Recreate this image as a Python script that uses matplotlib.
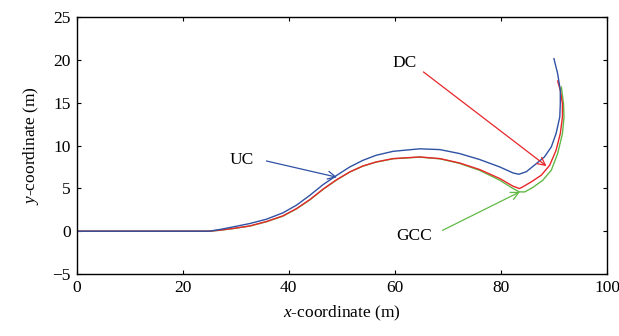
import matplotlib
matplotlib.use("Agg")
import matplotlib.pyplot as plt

plt.rcParams['font.family'] = ['Liberation Serif', 'DejaVu Serif']
plt.rcParams['mathtext.fontset'] = 'custom'
plt.rcParams['mathtext.it'] = 'Liberation Serif:italic'
plt.rcParams['mathtext.rm'] = 'Liberation Serif'

# UC (blue)
uc_x = [0, 25, 27.0, 29.5, 32.7, 35.8, 38.9, 41.5, 44.0, 46.5, 49.0, 51.5, 54.0,
        56.5, 59.7, 64.7, 68.5, 72.2, 76.0, 79.8, 82.3, 83.4, 84.8, 86.3, 88.2,
        89.5, 90.4, 91.1, 91.2, 91.2, 90.7, 90.0]
uc_y = [0, 0, 0.2, 0.5, 0.9, 1.4, 2.14, 3.05, 4.2, 5.45, 6.5, 7.5, 8.28,
        8.87, 9.33, 9.62, 9.53, 9.07, 8.37, 7.5, 6.8, 6.65, 6.95, 7.7, 8.67,
        9.84, 11.4, 13.34, 14.9, 16.45, 18.4, 20.15]

# DC (red)
dc_x = [0, 25, 27.0, 29.5, 32.7, 35.8, 38.9, 41.5, 44.0, 46.5, 49.0, 51.5, 54.0,
        56.5, 59.7, 64.7, 68.5, 72.2, 76.0, 79.8, 82.3, 83.5, 84.1, 85.7, 87.6,
        89.2, 90.4, 91.2, 91.6, 91.6, 91.2, 90.7]
dc_y = [0, 0, 0.12, 0.32, 0.62, 1.13, 1.79, 2.65, 3.7, 4.92, 6.0, 6.92, 7.62,
        8.09, 8.48, 8.67, 8.48, 7.97, 7.2, 6.15, 5.25, 4.98, 5.17, 5.75, 6.53,
        7.7, 9.45, 11.4, 13.34, 14.9, 16.45, 17.54]

# GCC (green)
gcc_x = [0, 25, 27.0, 29.5, 32.7, 35.8, 38.9, 41.5, 44.0, 46.5, 49.0, 51.5, 54.0,
         56.5, 59.7, 64.7, 68.5, 72.2, 76.0, 79.8, 82.3, 83.5, 84.5, 86.0, 87.9,
         89.5, 90.7, 91.6, 91.9, 91.8, 91.4]
gcc_y = [0, 0, 0.1, 0.3, 0.6, 1.1, 1.75, 2.62, 3.66, 4.9, 5.97, 6.9, 7.6,
         8.07, 8.46, 8.65, 8.45, 7.92, 7.1, 5.95, 4.98, 4.59, 4.59, 5.1, 5.95,
         7.12, 9.07, 11.4, 13.34, 14.9, 16.84]

x_ticks = [0, 20, 40, 60, 80, 100]
y_ticks = [-5, 0, 5, 10, 15, 20, 25]

blue = '#2f52a4'
red = '#e8262a'
green = '#62b946'

fig = plt.figure(figsize=(6.19, 3.36), dpi=100)
ax = fig.add_axes([0.1236, 0.1845, 0.857, 0.7645])

ax.plot(gcc_x, gcc_y, color=green, lw=1.0)
ax.plot(dc_x, dc_y, color=red, lw=1.0)
ax.plot(uc_x, uc_y, color=blue, lw=1.0)

ax.set_xlim(0, 100)
ax.set_ylim(-5, 25)
ax.set_xticks(x_ticks)
ax.set_yticks(y_ticks)
ax.set_yticklabels(['\u22125' if t == -5 else str(t) for t in y_ticks])
ax.tick_params(direction='in', top=True, right=True, labelsize=12.5, length=3,
               width=0.8, pad=4)
for s in ax.spines.values():
    s.set_linewidth(1.0)

ax.set_xlabel(r'$x$-coordinate (m)', fontsize=12.5, labelpad=6)
ax.set_ylabel(r'$y$-coordinate (m)', fontsize=12.5, labelpad=8)

arrow_kw = dict(arrowstyle='->', lw=0.9, shrinkA=0, shrinkB=0,
                mutation_scale=14)
ax.annotate('', xy=(49.1, 6.3), xytext=(35.8, 8.2),
            arrowprops=dict(color=blue, **arrow_kw))
ax.text(31.2, 8.3, 'UC', fontsize=12.5, ha='center', va='center')

ax.annotate('', xy=(88.6, 7.6), xytext=(65.4, 18.6),
            arrowprops=dict(color=red, **arrow_kw))
ax.text(61.9, 19.7, 'DC', fontsize=12.5, ha='center', va='center')

ax.annotate('', xy=(83.6, 4.6), xytext=(69.0, 0.1),
            arrowprops=dict(color=green, **arrow_kw))
ax.text(63.7, -0.6, 'GCC', fontsize=12.5, ha='center', va='center')

fig.savefig('out.png', dpi=100)
